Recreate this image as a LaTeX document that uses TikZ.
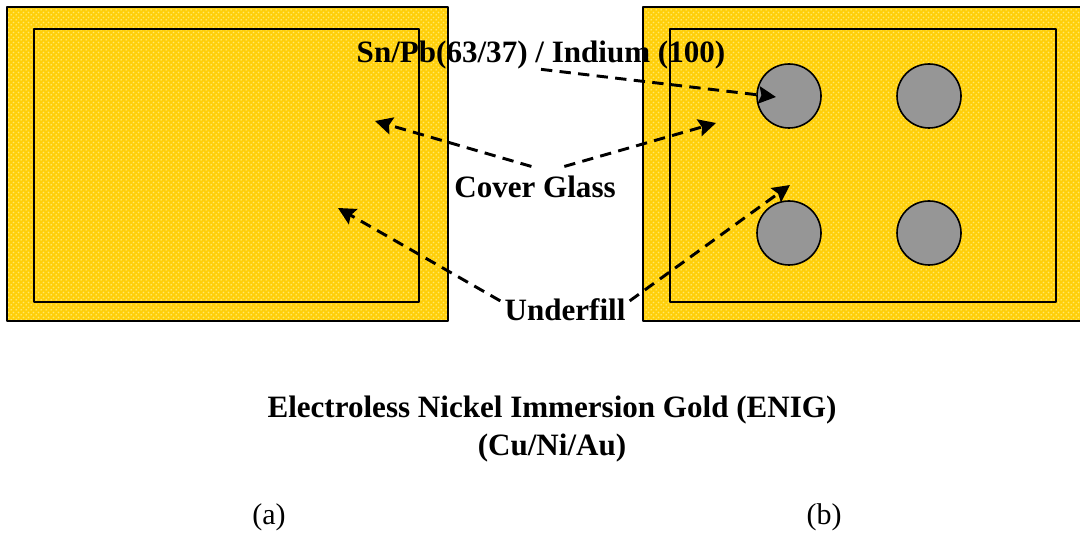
\documentclass[tikz,border=0pt]{standalone}
\usepackage{fontspec}
\setmainfont{Liberation Serif}
\usepackage{tkz-euclide}
\usetikzlibrary{arrows.meta,patterns}
\definecolor{panelgold}{HTML}{FFCF0A}
\definecolor{paneldot}{HTML}{FFE96A}
\definecolor{ballgray}{HTML}{969696}
\pgfdeclarepatternformonly{golddots}{\pgfqpoint{0pt}{0pt}}{\pgfqpoint{4pt}{4pt}}{\pgfqpoint{4pt}{4pt}}{
	\pgfpathcircle{\pgfqpoint{1pt}{1pt}}{.75pt}
	\pgfpathcircle{\pgfqpoint{3pt}{3pt}}{.75pt}
	\pgfusepath{fill}
}
\tikzset{
	panel/.style={draw=black, line width=2pt, preaction={fill=panelgold}, pattern=golddots, pattern color=paneldot},
	glass/.style={draw=black, line width=1.6pt},
	ball/.style={draw=black, line width=1.2pt, fill=ballgray},
	lead/.style={line width=2.2pt, dash pattern=on 8.5pt off 5.5pt, -{Stealth[length=13pt,width=13pt,inset=2pt]}},
	lbl/.style={font=\fontsize{23.3}{29}\selectfont\bfseries, inner xsep=3pt, inner ysep=7pt},
	subcap/.style={font=\fontsize{22.5}{27}\selectfont, inner sep=0pt}
}
\newcommand{\myPanel}[4]{
\tkzDrawPolygon[panel](#1,#2,#3,#4)
}
\newcommand{\myBall}[1]{
\draw[ball] (#1) circle (32);
}

\begin{document}
\begin{tikzpicture}[x=.75pt, y=.75pt]
	\clip (0,0) rectangle (1080,534);
	\tkzDefPoints{7/527/A, 7/213/B, 448/213/C, 448/527/D}
	\tkzDefPoints{34/505/E, 34/232/F, 419/232/G, 419/505/H}
	\tkzDefPoints{643/527/I, 643/213/J, 1100/213/K, 1100/527/L}
	\tkzDefPoints{670/505/M, 670/232/N, 1056/232/O, 1056/505/P}
	\tkzDefPoints{789/438/R, 929/438/S, 789/301/T, 929/301/U}
	\tkzDefPoints{776/437/solderEnd, 375/413/coverEndL, 716/411/coverEndR, 338/326/fillEndL, 790/349/fillEndR}

	\myPanel{A}{B}{C}{D}
	\tkzDrawPolygon[glass](E,F,G,H)
	\myPanel{I}{J}{K}{L}
	\tkzDrawPolygon[glass](M,N,O,P)

	\myBall{R}
	\myBall{S}
	\myBall{T}
	\myBall{U}

	\node[lbl, inner ysep=0pt] (solder) at (541,479) {Sn/Pb(63/37) / Indium (100)};
	\node[lbl] (cover) at (535,347) {Cover Glass};
	\node[lbl] (fill) at (565,224) {Underfill};
	\node[lbl, align=center, inner sep=0pt] (enig) at (552,105) {Electroless Nickel Immersion Gold (ENIG)\\(Cu/Ni/Au)};
	\node[subcap] (capa) at (269,17) {(a)};
	\node[subcap] (capb) at (824,17) {(b)};

	\draw[lead] (solder.south) -- (solderEnd);
	\draw[lead] (cover.100) -- (coverEndL);
	\draw[lead] (cover.35) -- (coverEndR);
	\draw[lead] (fill.172) -- (fillEndL);
	\draw[lead] (fill.8) -- (fillEndR);
\end{tikzpicture}
\end{document}
